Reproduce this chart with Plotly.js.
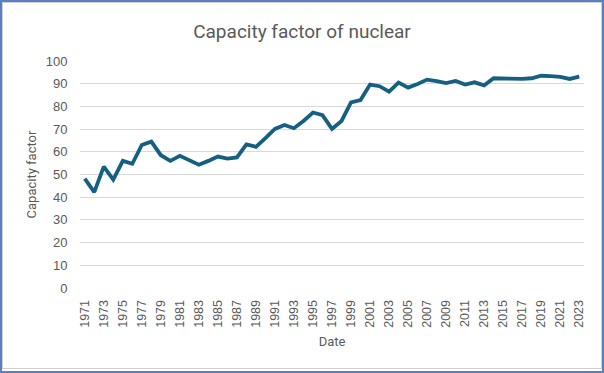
<!DOCTYPE html>
<html>
<head>
<meta charset="utf-8">
<script src="https://cdn.plot.ly/plotly-3.0.1.min.js"></script>
<style>
  html, body { margin: 0; padding: 0; background: #fff; }
  #wrap { position: relative; width: 604px; height: 373px; }
  #chart { width: 604px; height: 373px; }
  #frame { position: absolute; left: 0; top: 0; width: 600px; height: 369px;
           border: 2px solid #5A80C2; pointer-events: none; }
  #inner { position: absolute; left: 2px; top: 2px; width: 598px; height: 365px;
           border: 1px solid #D0D0D0; pointer-events: none; }
</style>
</head>
<body>
<div id="wrap">
  <div id="chart"></div>
  <div id="frame"></div>
  <div id="inner"></div>
</div>
<script>
const years = [1971,1972,1973,1974,1975,1976,1977,1978,1979,1980,
               1981,1982,1983,1984,1985,1986,1987,1988,1989,1990,
               1991,1992,1993,1994,1995,1996,1997,1998,1999,2000,
               2001,2002,2003,2004,2005,2006,2007,2008,2009,2010,
               2011,2012,2013,2014,2015,2016,2017,2018,2019,2020,
               2021,2022,2023];
const capacityFactor = [48.2,42.2,53.5,47.7,56.0,54.7,63.0,64.5,58.5,56.0,
                        58.2,56.4,54.3,56.0,57.9,57.0,57.5,63.3,62.2,66.0,
                        70.1,71.8,70.4,73.6,77.3,76.1,70.1,73.6,81.8,82.8,
                        89.6,88.9,86.5,90.5,88.3,89.9,91.8,91.1,90.3,91.2,
                        89.6,90.6,89.3,92.4,92.2,92.4,92.1,92.4,93.5,93.3,
                        93.0,92.1,93.1];
const xTickLabels = years.filter((y, i) => i % 2 === 0);
const yTicks = [0,10,20,30,40,50,60,70,80,90,100];

const trace = {
  x: years,
  y: capacityFactor,
  type: 'scatter',
  mode: 'lines',
  line: { color: '#156082', width: 3.8 },
  hoverinfo: 'x+y'
};

const layout = {
  width: 604, height: 373,
  margin: { l: 80, r: 20, t: 61, b: 85 },
  paper_bgcolor: '#ffffff',
  plot_bgcolor: '#ffffff',
  showlegend: false,
  font: { family: 'Liberation Sans, Arial, sans-serif', color: '#595959', size: 12 },
  title: {
    text: 'Capacity factor of nuclear',
    font: { family: 'Roboto, Liberation Sans, sans-serif', size: 19, color: '#595959' },
    x: 0.5, xanchor: 'center', xref: 'container',
    y: 1 - 31/373, yanchor: 'middle', yref: 'container'
  },
  xaxis: {
    range: [1970.5, 2023.5],
    tickmode: 'array',
    tickvals: xTickLabels,
    ticktext: xTickLabels.map(String),
    tickangle: -90,
    showgrid: false,
    zeroline: false,
    showline: false,
    ticks: 'outside', ticklen: 6, tickcolor: 'rgba(0,0,0,0)',
    tickfont: { size: 12.5, color: '#595959' },
    title: { text: 'Date', font: { family: 'Roboto, Liberation Sans, sans-serif', size: 13, color: '#595959' }, standoff: 10 },
    fixedrange: true
  },
  yaxis: {
    range: [0, 100],
    tickmode: 'array',
    tickvals: yTicks,
    ticktext: yTicks.map(String),
    showgrid: true,
    gridcolor: '#D9D9D9',
    gridwidth: 1,
    zeroline: false,
    showline: false,
    ticks: 'outside', ticklen: 9, tickcolor: 'rgba(0,0,0,0)',
    tickfont: { size: 13, color: '#595959' },
    title: { text: 'Capacity factor', font: { family: 'Roboto, Liberation Sans, sans-serif', size: 13, color: '#595959' }, standoff: 6 },
    fixedrange: true
  }
};

Plotly.newPlot('chart', [trace], layout, { displayModeBar: false, staticPlot: true });
</script>
</body>
</html>
